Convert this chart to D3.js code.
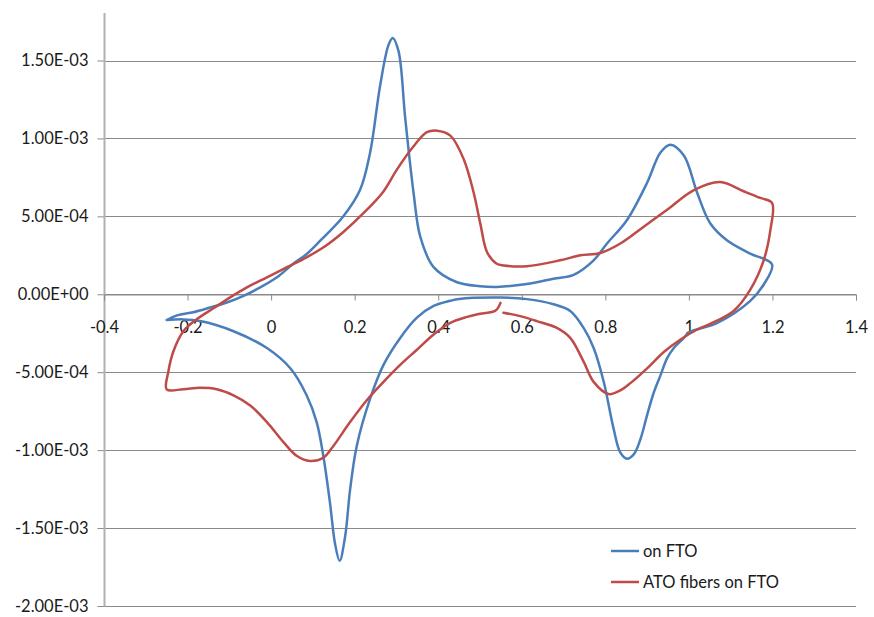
<!DOCTYPE html>
<html><head><meta charset="utf-8">
<script src="https://cdn.jsdelivr.net/npm/d3@7"></script>
<style>
body{margin:0;background:#fff;}
text{font-family:Lato,"Liberation Sans",sans-serif;fill:#1a1a1a;}
</style></head>
<body><svg id="c" width="874" height="617"></svg>
<script>
// ---- data ----
const seriesNames = ["on FTO", "ATO fibers on FTO"];
const seriesColors = ["#4a7ebb", "#be4b48"];

// on FTO: potential (V)
const fto_E = [
 -0.25,-0.225,-0.186,-0.146,-0.106,-0.066,-0.026,0.014,0.053,0.086,0.12,0.173,0.213,0.237,0.261,0.281,0.291,0.305,0.321,0.341,0.357,0.389,0.445,0.50,0.54,0.612,0.676,0.724,0.772,0.804,0.852,0.90,0.932,0.956,0.988,1.02,1.051,1.091,1.147,1.199,
 1.18,1.147,1.067,1.0,0.988,0.964,0.948,0.932,0.916,0.90,0.884,0.868,0.852,0.836,0.82,0.796,0.772,0.748,0.716,0.676,0.612,0.549,0.45,0.429,0.389,0.349,0.309,0.269,0.237,0.205,0.189,0.177,0.164,0.153,0.141,0.125,0.109,0.085,0.046,-0.01,-0.09,-0.17,-0.21,-0.25];
// on FTO: current (A)
const fto_I = [
 -1.65e-4,-1.35e-4,-1.15e-4,-0.85e-4,-0.53e-4,-0.1e-4,0.44e-4,1.09e-4,1.96e-4,2.6e-4,3.5e-4,5.0e-4,6.7e-4,9.1e-4,1.34e-3,1.60e-3,1.645e-3,1.56e-3,1.13e-3,6.5e-4,3.7e-4,1.74e-4,0.77e-4,0.52e-4,0.47e-4,0.66e-4,1.0e-4,1.25e-4,2.18e-4,3.26e-4,4.77e-4,7.16e-4,9.1e-4,9.6e-4,8.9e-4,6.5e-4,4.56e-4,3.47e-4,2.61e-4,1.92e-4,
 0.66e-4,-0.42e-4,-1.85e-4,-2.45e-4,-2.8e-4,-3.45e-4,-4.1e-4,-5.2e-4,-6.3e-4,-7.75e-4,-9.3e-4,-1.027e-3,-1.055e-3,-1.016e-3,-8.65e-4,-5.6e-4,-3.45e-4,-2.16e-4,-1.07e-4,-0.64e-4,-0.31e-4,-0.21e-4,-0.3e-4,-0.42e-4,-0.75e-4,-1.5e-4,-2.8e-4,-4.53e-4,-6.7e-4,-9.73e-4,-1.255e-3,-1.557e-3,-1.71e-3,-1.6e-3,-1.34e-3,-1.038e-3,-8.2e-4,-6.48e-4,-4.75e-4,-3.45e-4,-2.37e-4,-1.72e-4,-1.61e-4,-1.65e-4];

// ATO fibers on FTO: potential (V)
const ato_E = [
 0.549,0.537,0.50,0.469,0.429,0.389,0.349,0.309,0.269,0.229,0.189,0.149,0.125,0.093,0.062,0.03,-0.01,-0.05,-0.09,-0.13,-0.17,-0.21,-0.25,
 -0.246,-0.234,-0.21,-0.178,-0.138,-0.098,-0.058,-0.01,0.038,0.086,0.13,0.173,0.221,0.269,0.301,0.341,0.373,0.397,0.429,0.461,0.485,0.501,0.517,0.54,0.557,0.612,0.692,0.74,0.788,0.836,0.892,0.948,1.012,1.075,1.131,1.171,1.199,
 1.195,1.179,1.147,1.107,1.051,1.02,0.98,0.94,0.90,0.86,0.836,0.808,0.772,0.748,0.716,0.684,0.636,0.596,0.556];
// ATO fibers on FTO: current (A)
const ato_I = [
 -0.55e-4,-1.05e-4,-1.25e-4,-1.45e-4,-1.83e-4,-2.58e-4,-3.56e-4,-4.53e-4,-5.62e-4,-6.8e-4,-8.2e-4,-9.73e-4,-1.049e-3,-1.07e-3,-1.038e-3,-9.5e-4,-8.2e-4,-7.13e-4,-6.48e-4,-6.09e-4,-6.0e-4,-6.09e-4,-6.1e-4,
 -4.97e-4,-3.67e-4,-2.37e-4,-1.6e-4,-0.9e-4,-0.2e-4,0.44e-4,1.09e-4,1.74e-4,2.39e-4,3.1e-4,4.0e-4,5.2e-4,6.6e-4,8.0e-4,9.5e-4,1.04e-3,1.05e-3,1.018e-3,8.67e-4,6.5e-4,4.5e-4,2.7e-4,1.96e-4,1.85e-4,1.8e-4,2.18e-4,2.5e-4,2.65e-4,3.26e-4,4.34e-4,5.42e-4,6.68e-4,7.2e-4,6.61e-4,6.18e-4,5.86e-4,
 4.12e-4,2.18e-4,0.3e-4,-1.07e-4,-1.9e-4,-2.26e-4,-2.9e-4,-3.7e-4,-4.75e-4,-5.7e-4,-6.16e-4,-6.4e-4,-5.62e-4,-4.32e-4,-2.8e-4,-2.16e-4,-1.72e-4,-1.4e-4,-1.18e-4];

const xTicks = [-0.4,-0.2,0,0.2,0.4,0.6,0.8,1,1.2,1.4];
const xTickLabels = ["-0.4","-0.2","0","0.2","0.4","0.6","0.8","1","1.2","1.4"];
const yTicks = [-2e-3,-1.5e-3,-1e-3,-5e-4,0,5e-4,1e-3,1.5e-3];
const yTickLabels = ["-2.00E-03","-1.50E-03","-1.00E-03","-5.00E-04","0.00E+00","5.00E-04","1.00E-03","1.50E-03"];

// ---- chart ----
const svg = d3.select("#c");
const x = d3.scaleLinear().domain([-0.4, 1.4]).range([104, 856]);
const y = d3.scaleLinear().domain([-2e-3, 1.5e-3]).range([606, 60.5]);

// gridlines
svg.append("g").selectAll("line").data(yTicks).join("line")
  .attr("x1", 104).attr("x2", 856)
  .attr("y1", d => Math.round(y(d)) + 0.5).attr("y2", d => Math.round(y(d)) + 0.5)
  .attr("stroke", "#8a8a8a").attr("stroke-width", 1);

// y axis
const yAxis = svg.append("g").attr("transform", "translate(104.5,0)")
  .call(d3.axisLeft(y).tickValues(yTicks).tickFormat((d,i) => yTickLabels[i]).tickSize(7).tickPadding(9));
yAxis.select(".domain").remove();
yAxis.selectAll(".tick line").attr("stroke", "#8a8a8a");
yAxis.selectAll(".tick text").attr("font-size", "16.5px").attr("font-family", "Lato");
svg.append("line").attr("x1", 104.5).attr("x2", 104.5).attr("y1", 13).attr("y2", 606.5)
  .attr("stroke", "#b0b0b0").attr("stroke-width", 2);

// x axis at zero
const xAxis = svg.append("g").attr("transform", `translate(0,${Math.round(y(0)) + 0.5})`)
  .call(d3.axisBottom(x).tickValues(xTicks).tickFormat((d,i) => xTickLabels[i]).tickSize(6).tickPadding(21));
xAxis.select(".domain").attr("stroke", "#8a8a8a");
xAxis.selectAll(".tick line").attr("stroke", "#8a8a8a");
xAxis.selectAll(".tick text").attr("font-size", "16.5px").attr("font-family", "Lato");

// series
const line = d3.line().x(d => x(d[0])).y(d => y(d[1])).curve(d3.curveCatmullRom.alpha(0.5));
const series = [
  d3.zip(fto_E, fto_I),
  d3.zip(ato_E, ato_I)
];
svg.append("g").selectAll("path").data(series).join("path")
  .attr("d", line).attr("fill", "none")
  .attr("stroke", (d,i) => seriesColors[i]).attr("stroke-width", 2.5)
  .attr("stroke-linejoin", "round").attr("stroke-linecap", "round");

// legend
const lg = svg.append("g");
seriesNames.forEach((n, i) => {
  const yy = 551 + i * 31;
  lg.append("line").attr("x1", 611).attr("x2", 639).attr("y1", yy).attr("y2", yy)
    .attr("stroke", seriesColors[i]).attr("stroke-width", 2.5);
  lg.append("text").attr("x", 643).attr("y", yy).attr("dy", "0.35em")
    .attr("font-size", "16.5px").text(n);
});
</script></body></html>
